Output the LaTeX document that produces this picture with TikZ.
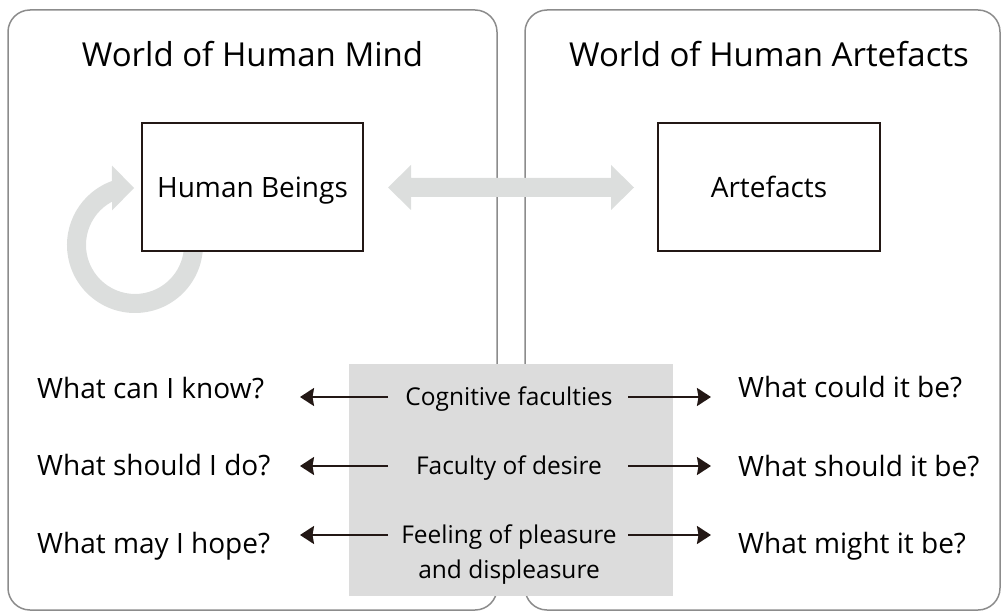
\documentclass[tikz,border=0pt]{standalone}
\usepackage{fontspec}
\setmainfont{Open Sans}
\usetikzlibrary{arrows.meta,calc}
\definecolor{panelgray}{RGB}{140,140,140}
\definecolor{arrowgray}{RGB}{220,222,221}
\definecolor{blockgray}{RGB}{220,220,220}
\definecolor{ink}{RGB}{35,24,21}
\begin{document}
\begin{tikzpicture}[x=1pt,y=-1pt,
  panel/.style={draw=panelgray,line width=1.5pt,rounded corners=22pt,inner sep=0pt},
  titletext/.style={font=\fontsize{33}{40}\selectfont,anchor=base,inner sep=0pt},
  entbox/.style={draw=ink,line width=2pt,fill=white,minimum width=221pt,minimum height=128pt,
    font=\fontsize{28}{34}\selectfont,text height=20pt,text depth=0pt,inner sep=0pt},
  question/.style={font=\fontsize{28}{34}\selectfont,anchor=west,inner sep=0pt,text height=20pt,text depth=0pt},
  faculty/.style={font=\fontsize{24.5}{35}\selectfont,inner sep=0pt,align=center},
  oneline/.style={text height=17.5pt,text depth=0pt},
  arr/.style={draw=ink,line width=2.2pt,-{Stealth[length=14pt,width=18pt,inset=1.5pt]}},
]
\useasboundingbox (0,0) rectangle (1003,612);

% panels
\node[panel,minimum width=489pt,minimum height=600pt] (mind) at (252.5,310) {};
\node[panel,minimum width=475pt,minimum height=600pt] (artw) at (762.5,310) {};
\node[titletext] (t1) at (252.5,67) {World of Human Mind};
\node[titletext] (t2) at (769,67) {World of Human Artefacts};

% circular arrow
\coordinate (rc) at (135,245);
\fill[arrowgray] ($(rc)+(-10:68)$) arc[start angle=-10,end angle=250.2,radius=68]
  -- (112,165.5) -- (134,188) -- (112,210.5) -- (112,201.7)
  arc[start angle=242,end angle=-10,radius=49] -- cycle;

% entity boxes
\node[entbox] (hb) at (252.5,187.5) {Human Beings};
\node[entbox,minimum width=222pt] (art) at (769,187.5) {Artefacts};

% double arrow
\coordinate (dl) at ($(hb.east)+(24,0)$);
\coordinate (dr) at ($(art.west)+(-23,0)$);
\fill[arrowgray] (dl) -- ++(23,-22.5) -- ++(0,13) -- ($(dr)+(-23,-9.5)$) -- ++(0,-13)
  -- (dr) -- ++(-23,22.5) -- ++(0,-13) -- ($(dl)+(23,9.5)$) -- ++(0,13) -- cycle;

% faculties block
\node[fill=blockgray,minimum width=324pt,minimum height=232pt,inner sep=0pt] (fac) at (511,480) {};
\node[faculty,oneline] (cog) at (509,396.5) {Cognitive faculties};
\node[faculty,oneline] (des) at (509,465.5) {Faculty of desire};
\node[faculty] (fee) at (509,555) {Feeling of pleasure\\and displeasure};

% questions
\node[question] (q1) at (37,388) {What can I know?};
\node[question] (q2) at (37,465.5) {What should I do?};
\node[question] (q3) at (37,543) {What may I hope?};
\node[question] (r1) at (738,387) {What could it be?};
\node[question] (r2) at (738,466) {What should it be?};
\node[question] (r3) at (738,543) {What might it be?};

% arrows
\coordinate (a1s) at (388,397); \coordinate (a1e) at (300,397);
\coordinate (a2s) at (388,466); \coordinate (a2e) at (300,466);
\coordinate (a3s) at (388,535); \coordinate (a3e) at (300,535);
\coordinate (b1s) at (628,397); \coordinate (b1e) at (711,397);
\coordinate (b2s) at (628,466); \coordinate (b2e) at (711,466);
\coordinate (b3s) at (628,535); \coordinate (b3e) at (711,535);
\draw[arr] (a1s) -- (a1e);
\draw[arr] (a2s) -- (a2e);
\draw[arr] (a3s) -- (a3e);
\draw[arr] (b1s) -- (b1e);
\draw[arr] (b2s) -- (b2e);
\draw[arr] (b3s) -- (b3e);
\end{tikzpicture}
\end{document}
